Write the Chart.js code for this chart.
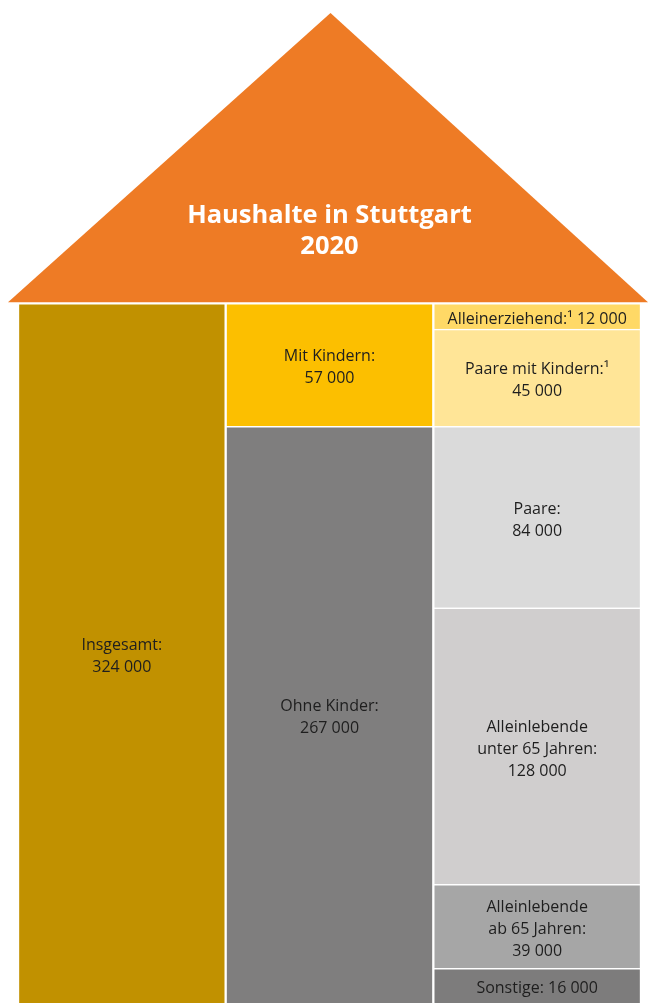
<!DOCTYPE html>
<html><head><meta charset="utf-8">
<script src="https://cdn.jsdelivr.net/npm/chart.js@4.4.0/dist/chart.umd.min.js"></script>
<style>html,body{margin:0;padding:0;background:#fff;}#wrap{width:648px;height:1003px;}</style>
</head><body><div id="wrap"><canvas id="c"></canvas></div>
<script>
const categories = ['Insgesamt', 'Nach Kindern', 'Nach Haushaltstyp'];
const titleLines = ['Haushalte in Stuttgart', '2020'];
const segmentLabels = [
  ['Insgesamt:'],
  ['Ohne Kinder:'],
  ['Mit Kindern:'],
  ['Sonstige:'],
  ['Alleinlebende', 'ab 65 Jahren:'],
  ['Alleinlebende', 'unter 65 Jahren:'],
  ['Paare:'],
  ['Paare mit Kindern:¹'],
  ['Alleinerziehend:¹']
];
const segmentValues = [324000, 267000, 57000, 16000, 39000, 128000, 84000, 45000, 12000];
const segmentColumns = [0, 1, 1, 2, 2, 2, 2, 2, 2];
const segmentColors = ['#C19100', '#7F7E7E', '#FCBF00', '#7D7C7C', '#A6A6A6', '#D0CECE', '#DADADA', '#FFE597', '#FFD966'];

function fmt(v){ return String(v).replace(/\B(?=(\d{3})+(?!\d))/g, ' '); }

const datasets = segmentValues.map((v, i) => ({
  label: segmentLabels[i].join(' '),
  data: categories.map((c, j) => j === segmentColumns[i] ? v : null),
  backgroundColor: segmentColors[i],
  borderColor: '#ffffff',
  borderWidth: {top: 1.5, left: 1.5, right: 1.5, bottom: 1.5},
  borderSkipped: 'start',
  categoryPercentage: 1,
  barPercentage: 1
}));

const roofPlugin = {
  id: 'roof',
  beforeDraw(chart){
    const ctx = chart.ctx, a = chart.chartArea;
    ctx.save();
    ctx.fillStyle = '#EE7B25';
    ctx.beginPath();
    ctx.moveTo(a.left - 10, a.top - 1);
    ctx.lineTo((a.left + a.right) / 2 + 1, 13);
    ctx.lineTo(a.right + 7, a.top - 1);
    ctx.closePath();
    ctx.fill();
    ctx.restore();
  }
};

const labelPlugin = {
  id: 'segLabels',
  afterDatasetsDraw(chart){
    const ctx = chart.ctx;
    ctx.save();
    ctx.font = '16px "Open Sans", sans-serif';
    ctx.fillStyle = '#1e1e1e';
    ctx.textAlign = 'center';
    ctx.textBaseline = 'middle';
    const lh = 22;
    chart.data.datasets.forEach((ds, i) => {
      const el = chart.getDatasetMeta(i).data[segmentColumns[i]];
      const h = Math.abs(el.base - el.y);
      let lines = segmentLabels[i].slice();
      if (h < 50) { lines[lines.length - 1] += ' ' + fmt(segmentValues[i]); }
      else lines.push(fmt(segmentValues[i]));
      const cy = (el.y + el.base) / 2 + 3;
      const y0 = cy - (lines.length - 1) * lh / 2;
      lines.forEach((t, k) => ctx.fillText(t, el.x, y0 + k * lh));
    });
    ctx.restore();
  }
};

new Chart(document.getElementById('c'), {
  type: 'bar',
  data: { labels: categories, datasets },
  options: {
    responsive: true,
    maintainAspectRatio: false,
    animation: false,
    layout: { padding: { left: 18, right: 7, top: 0, bottom: 0 } },
    scales: {
      x: { stacked: true, display: false, offset: true },
      y: { stacked: true, display: false, min: 0, max: 324000 }
    },
    plugins: {
      legend: { display: false },
      tooltip: { enabled: false },
      title: {
        display: true,
        text: titleLines,
        color: '#ffffff',
        font: { family: '"Open Sans", sans-serif', size: 25.5, weight: 'bold', lineHeight: 1.22 },
        padding: { top: 200, bottom: 41 }
      }
    }
  },
  plugins: [roofPlugin, labelPlugin]
});
</script></body></html>
